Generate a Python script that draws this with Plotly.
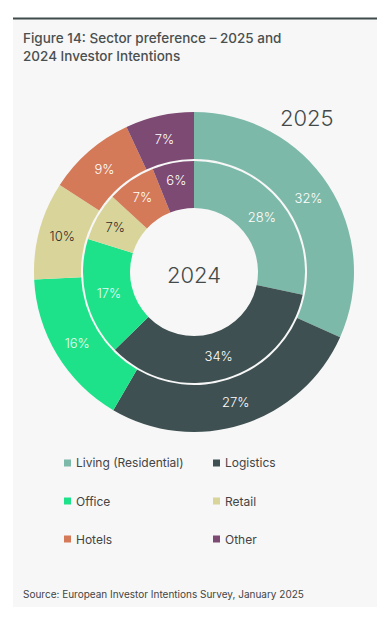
import plotly.graph_objects as go

# The page body has an 8px margin, so the figure is drawn 8px smaller and
# reference pixel coordinates are shifted by that offset.
OFF = 8
W, H = 388 - OFF, 621 - OFF

sectors = ["Living (Residential)", "Logistics", "Office", "Retail", "Hotels", "Other"]
values_2025 = [32, 27, 16, 10, 9, 7]
values_2024 = [28, 34, 17, 7, 7, 6]
colors = ["#7db9a9", "#3e5051", "#1ee28a", "#d9d59a", "#d47a59", "#7d4a73"]
text_colors = ["#ffffff", "#ffffff", "#e8fff4", "#2b2b2b", "#ffffff", "#ffffff"]

FONT = "Inter, Roboto, 'Noto Sans', sans-serif"


def px(x):
    return (x - OFF) / W


def py(y):
    return 1 - (y - OFF) / H


cx, cy = 194, 272
r_out, r_out_in = 160, 113
r_in, r_in_hole = 111, 64

fig = go.Figure()

fig.add_trace(go.Pie(
    labels=sectors, values=values_2025, sort=False, direction="clockwise", rotation=0,
    hole=r_out_in / r_out,
    domain=dict(x=[px(cx - r_out), px(cx + r_out)], y=[py(cy + r_out), py(cy - r_out)]),
    marker=dict(colors=colors, line=dict(width=0)),
    text=[f"{v}%" for v in values_2025], textinfo="text", textposition="inside",
    insidetextorientation="horizontal",
    textfont=dict(family=FONT, size=13, color=text_colors, weight=300),
    hoverinfo="label+value", showlegend=False, name="2025",
))

fig.add_trace(go.Pie(
    labels=sectors, values=values_2024, sort=False, direction="clockwise", rotation=0,
    hole=r_in_hole / r_in,
    domain=dict(x=[px(cx - r_in), px(cx + r_in)], y=[py(cy + r_in), py(cy - r_in)]),
    marker=dict(colors=colors, line=dict(width=0)),
    text=[f"{v}%" for v in values_2024], textinfo="text", textposition="inside",
    insidetextorientation="horizontal",
    textfont=dict(family=FONT, size=13, color=text_colors, weight=300),
    hoverinfo="label+value", showlegend=False, name="2024",
))

shapes = [
    dict(type="rect", xref="paper", yref="paper", x0=px(13), x1=px(377), y0=py(607), y1=py(19),
         fillcolor="#f7f7f7", line=dict(width=0), layer="below"),
    dict(type="line", xref="paper", yref="paper", x0=px(13), x1=px(377), y0=py(18.5), y1=py(18.5),
         line=dict(color="#3f4a4a", width=2)),
]

annotations = [
    dict(text="Figure 14: Sector preference – 2025 and<br>2024 Investor Intentions",
         x=px(21), y=py(28), xref="paper", yref="paper", xanchor="left", yanchor="top",
         align="left", showarrow=False,
         font=dict(family=FONT, size=13.5, color="#4a4f4f", weight=500)),
    dict(text="2025", x=px(307), y=py(118), xref="paper", yref="paper", showarrow=False,
         xanchor="center", yanchor="middle",
         font=dict(family=FONT, size=22, color="#444a4a", weight=300)),
    dict(text="2024", x=px(cx), y=py(275), xref="paper", yref="paper", showarrow=False,
         xanchor="center", yanchor="middle",
         font=dict(family=FONT, size=22, color="#444a4a", weight=300)),
    dict(text="Source: European Investor Intentions Survey, January 2025",
         x=px(21), y=py(594), xref="paper", yref="paper", xanchor="left", yanchor="middle",
         showarrow=False, font=dict(family=FONT, size=10, color="#444444")),
]

col_x = [64, 213]
row_y = [463, 501, 539]
for i, (name, c) in enumerate(zip(sectors, colors)):
    x0 = col_x[i % 2]
    yc = row_y[i // 2]
    shapes.append(dict(type="rect", xref="paper", yref="paper",
                       x0=px(x0), x1=px(x0 + 7), y0=py(yc + 3.5), y1=py(yc - 3.5),
                       fillcolor=c, line=dict(width=0)))
    annotations.append(dict(text=name, x=px(x0 + 10), y=py(yc), xref="paper", yref="paper",
                            xanchor="left", yanchor="middle", showarrow=False,
                            font=dict(family=FONT, size=12, color="#444444")))

fig.update_layout(
    width=W, height=H, margin=dict(l=0, r=0, t=0, b=0),
    paper_bgcolor="#ffffff", plot_bgcolor="#ffffff",
    shapes=shapes, annotations=annotations, showlegend=False,
)

fig.write_html("out.html")
